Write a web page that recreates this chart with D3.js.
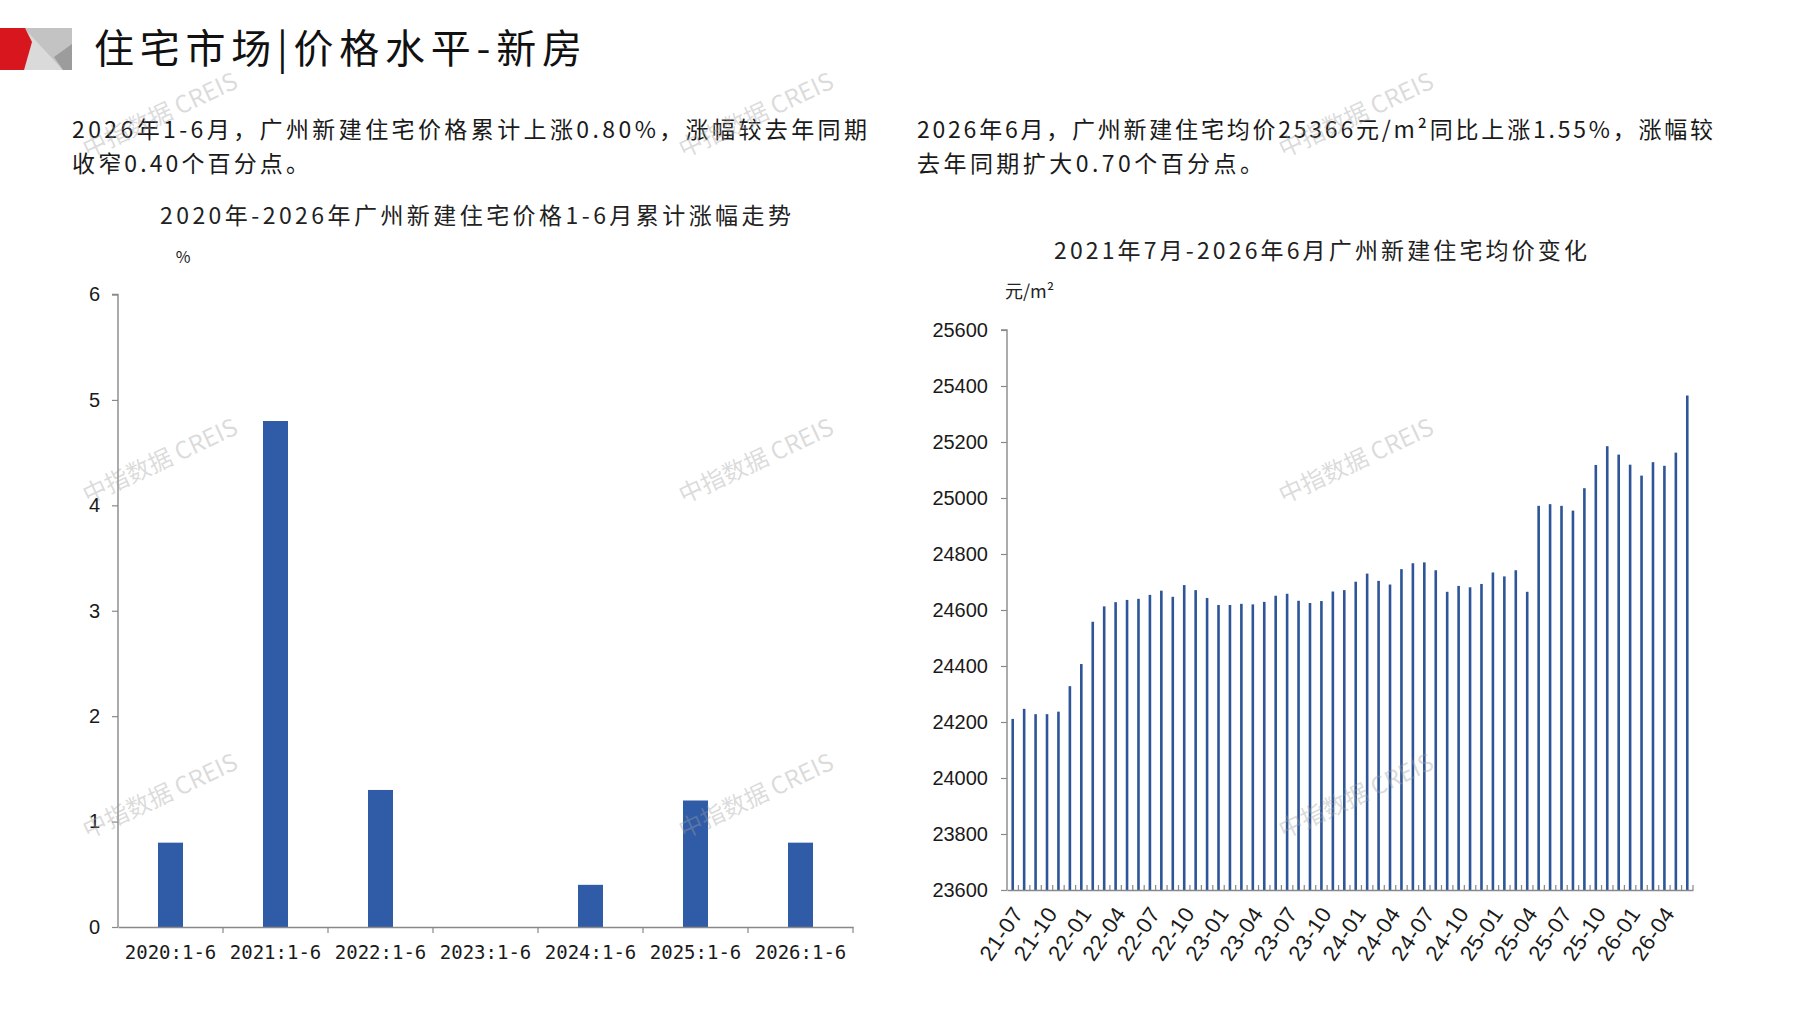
<!DOCTYPE html>
<html><head><meta charset="utf-8">
<script src="https://cdn.jsdelivr.net/npm/d3@7"></script>
<style>body{margin:0;background:#fff;} svg{display:block;}</style>
</head><body>
<svg id="c" width="1797" height="1010"></svg>
<script>
// ---------- data ----------
const leftCategories = ["2020:1-6","2021:1-6","2022:1-6","2023:1-6","2024:1-6","2025:1-6","2026:1-6"];
const leftValues = [0.8, 4.8, 1.3, 0, 0.4, 1.2, 0.8];
const leftTicks = [0,1,2,3,4,5,6];

const months = ["21-07","21-08","21-09","21-10","21-11","21-12",
  "22-01","22-02","22-03","22-04","22-05","22-06","22-07","22-08","22-09","22-10","22-11","22-12",
  "23-01","23-02","23-03","23-04","23-05","23-06","23-07","23-08","23-09","23-10","23-11","23-12",
  "24-01","24-02","24-03","24-04","24-05","24-06","24-07","24-08","24-09","24-10","24-11","24-12",
  "25-01","25-02","25-03","25-04","25-05","25-06","25-07","25-08","25-09","25-10","25-11","25-12",
  "26-01","26-02","26-03","26-04","26-05","26-06"];
const prices = [24211,24247,24228,24228,24237,24328,
  24407,24558,24613,24628,24636,24640,24654,24669,24647,24689,24671,24643,
  24618,24618,24622,24620,24629,24651,24658,24633,24625,24632,24666,24671,
  24701,24730,24704,24691,24746,24767,24770,24742,24665,24686,24681,24693,
  24734,24720,24742,24665,24972,24978,24972,24955,25035,25118,25185,25155,
  25119,25080,25128,25115,25162,25366];
const rightTicks = [23600,23800,24000,24200,24400,24600,24800,25000,25200,25400,25600];
const rightLabelMonths = ["21-07","21-10","22-01","22-04","22-07","22-10","23-01","23-04","23-07","23-10",
  "24-01","24-04","24-07","24-10","25-01","25-04","25-07","25-10","26-01","26-04"];

const pageTitle = "住宅市场|价格水平-新房";
const leftText = ["2026年1-6月，广州新建住宅价格累计上涨0.80%，涨幅较去年同期","收窄0.40个百分点。"];
const rightText = ["2026年6月，广州新建住宅均价25366元/m²同比上涨1.55%，涨幅较","去年同期扩大0.70个百分点。"];
const leftTitle = "2020年-2026年广州新建住宅价格1-6月累计涨幅走势";
const rightTitle = "2021年7月-2026年6月广州新建住宅均价变化";
const leftUnit = "%";
const rightUnit = "元/m²";
const watermark = "中指数据 CREIS";

// ---------- drawing ----------
const svg = d3.select("#c");
const CJK = "'Noto Sans CJK SC','Noto Sans',sans-serif";
const SANS = "'Liberation Sans',Arial,sans-serif";
const AXIS = "#898989";
const BAR = "#2f5ba7";

// header logo
const logo = svg.append("g");
logo.append("rect").attr("x",24).attr("y",28).attr("width",48).attr("height",42).attr("fill","#c3c3c3");
logo.append("polygon").attr("points","24,28 63,70 24,70").attr("fill","#dadada");
logo.append("polygon").attr("points","72,44 54,57 63,70 72,70").attr("fill","#9c9c9c");
logo.append("polygon").attr("points","0,28 25,28 32,42 24,70 0,70").attr("fill","#d7171d");

svg.append("text").attr("x",94).attr("y",63).attr("font-family",CJK).attr("font-size",40)
  .attr("fill","#111").attr("textLength",488).attr("lengthAdjust","spacing").text(pageTitle);

function para(lines, x, y0, widths){
  lines.forEach((t,i)=>{
    svg.append("text").attr("x",x).attr("y",y0+i*34).attr("font-family",CJK).attr("font-size",23)
      .attr("fill","#1a1a1a").attr("textLength",widths[i]).attr("lengthAdjust","spacing").text(t);
  });
}
para(leftText, 72, 138, [795, 237]);
para(rightText, 917, 138, [796, 346]);

svg.append("text").attr("x",160).attr("y",224).attr("font-family",CJK).attr("font-size",23)
  .attr("fill","#222").attr("textLength",631).attr("lengthAdjust","spacing").text(leftTitle);
svg.append("text").attr("x",1054).attr("y",259).attr("font-family",CJK).attr("font-size",23)
  .attr("fill","#222").attr("textLength",533).attr("lengthAdjust","spacing").text(rightTitle);

svg.append("text").attr("x",183).attr("y",263).attr("text-anchor","middle").attr("font-family",CJK)
  .attr("font-size",16).attr("fill","#222").text(leftUnit);
svg.append("text").attr("x",1005).attr("y",298).attr("font-family",CJK)
  .attr("font-size",18).attr("fill","#222").text(rightUnit);

// ---- left bar chart ----
const xL = d3.scaleBand().domain(leftCategories).range([118, 853]);
const yL = d3.scaleLinear().domain([0, 6]).range([927, 294.5]);
const bwL = 25;
const gL = svg.append("g");
gL.selectAll("rect.bar").data(leftValues).join("rect").attr("class","bar")
  .attr("x",(d,i)=>xL(leftCategories[i]) + xL.bandwidth()/2 - bwL/2)
  .attr("y",d=>yL(d)).attr("width",bwL).attr("height",d=>yL(0)-yL(d)).attr("fill",BAR);

const yAxisL = gL.append("g").attr("transform","translate(118,0)")
  .call(d3.axisLeft(yL).tickValues(leftTicks).tickSize(6).tickPadding(12).tickFormat(d3.format("d")));
yAxisL.select(".domain").attr("stroke",AXIS).attr("stroke-width",1.4).attr("d",`M-6,${yL(6)}H0V${yL(0)}`);
yAxisL.selectAll(".tick line").attr("stroke",AXIS).attr("stroke-width",1.2);
yAxisL.selectAll(".tick text").attr("font-family",SANS).attr("font-size",20).attr("fill","#1a1a1a");

const xAxisL = gL.append("g").attr("transform","translate(0,927)")
  .call(d3.axisBottom(xL).tickSize(0).tickPadding(19));
xAxisL.select(".domain").attr("stroke",AXIS).attr("stroke-width",1.4);
xAxisL.selectAll(".tick text").attr("font-family","'DejaVu Sans Mono',monospace").attr("font-size",19).attr("fill","#1a1a1a");
gL.selectAll("line.bnd").data(leftCategories).join("line").attr("class","bnd")
  .attr("x1",d=>xL(d)+xL.step()).attr("x2",d=>xL(d)+xL.step())
  .attr("y1",927).attr("y2",933).attr("stroke",AXIS).attr("stroke-width",1.2);

// ---- right bar chart ----
const xR = d3.scaleBand().domain(months).range([1007, 1693]);
const yR = d3.scaleLinear().domain([23600, 25600]).range([890, 330]);
const bwR = 2.6;
const gR = svg.append("g");
gR.selectAll("rect.bar").data(prices).join("rect").attr("class","bar")
  .attr("x",(d,i)=>xR(months[i]) + xR.bandwidth()/2 - bwR/2)
  .attr("y",d=>yR(d)).attr("width",bwR).attr("height",d=>yR(23600)-yR(d)).attr("fill","#2d5597");

const yAxisR = gR.append("g").attr("transform","translate(1007,0)")
  .call(d3.axisLeft(yR).tickValues(rightTicks).tickSize(6).tickPadding(13).tickFormat(d3.format("d")));
yAxisR.select(".domain").attr("stroke",AXIS).attr("stroke-width",1.4).attr("d",`M-6,${yR(25600)}H0V${yR(23600)}`);
yAxisR.selectAll(".tick line").attr("stroke",AXIS).attr("stroke-width",1.2);
yAxisR.selectAll(".tick text").attr("font-family",SANS).attr("font-size",20).attr("fill","#1a1a1a");

const xAxisR = gR.append("g").attr("transform","translate(0,890)")
  .call(d3.axisBottom(xR).tickSize(0).tickFormat(""));
xAxisR.select(".domain").attr("stroke",AXIS).attr("stroke-width",1.4);
gR.selectAll("line.bnd").data(months).join("line").attr("class","bnd")
  .attr("x1",d=>xR(d)+xR.step()).attr("x2",d=>xR(d)+xR.step())
  .attr("y1",890).attr("y2",885).attr("stroke",AXIS).attr("stroke-width",1.2);
gR.selectAll("text.xl").data(rightLabelMonths).join("text").attr("class","xl")
  .attr("transform",d=>`translate(${xR(d)+xR.bandwidth()/2+5},909) rotate(-56)`)
  .attr("text-anchor","end").attr("dy","0.35em")
  .attr("font-family",SANS).attr("font-size",22).attr("letter-spacing",0.6).attr("fill","#1a1a1a").text(d=>d);

// ---- watermarks ----
const wmX = [160, 756, 1356], wmY = [115, 461, 796];
const wm = svg.append("g").attr("pointer-events","none");
wmY.forEach(y=>wmX.forEach(x=>{
  wm.append("text").attr("transform",`translate(${x},${y}) rotate(-25)`).attr("text-anchor","middle")
    .attr("dy","0.35em").attr("font-family",CJK).attr("font-size",24)
    .attr("fill","#a0a0a0").attr("fill-opacity",0.38).text(watermark);
}));
</script></body></html>
